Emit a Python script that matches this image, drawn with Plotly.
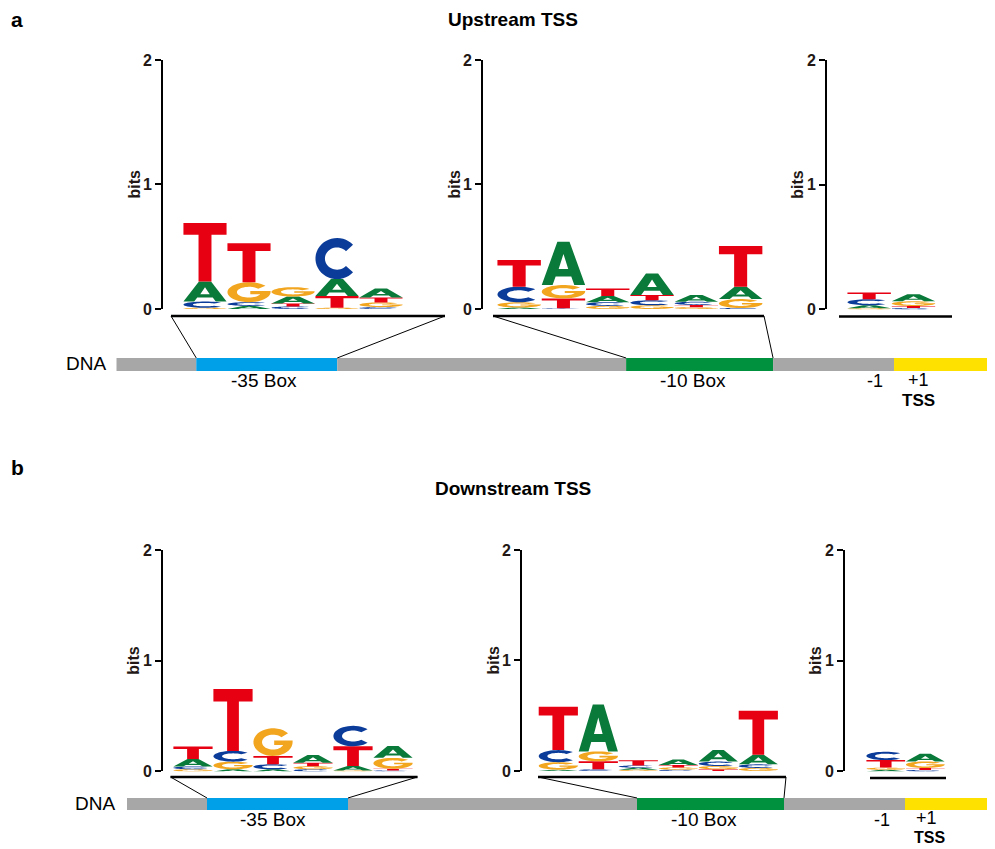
import numpy as np
import plotly.graph_objects as go

W, H = 995, 849

# ---------------- data (information content, bits) ----------------
# Upstream TSS, -35 box
UP35_A = [0.160, 0.025, 0.055, 0.135, 0.072]
UP35_C = [0.050, 0.030, 0.020, 0.330, 0.015]
UP35_G = [0.010, 0.160, 0.075, 0.010, 0.038]
UP35_T = [0.470, 0.313, 0.025, 0.095, 0.040]
# Upstream TSS, -10 box
UP10_A = [0.012, 0.348, 0.050, 0.174, 0.055, 0.099]
UP10_C = [0.125, 0.005, 0.030, 0.040, 0.025, 0.008]
UP10_G = [0.042, 0.107, 0.025, 0.030, 0.015, 0.072]
UP10_T = [0.214, 0.080, 0.060, 0.042, 0.018, 0.327]
# Upstream TSS, -1/+1
UPTSS_A = [0.024, 0.056]
UPTSS_C = [0.048, 0.012]
UPTSS_G = [0.010, 0.038]
UPTSS_T = [0.054, 0.016]
# Downstream TSS, -35 box
DN35_A = [0.067, 0.020, 0.020, 0.070, 0.040, 0.106]
DN35_C = [0.025, 0.097, 0.045, 0.020, 0.184, 0.010]
DN35_G = [0.020, 0.069, 0.250, 0.028, 0.010, 0.098]
DN35_T = [0.114, 0.558, 0.075, 0.030, 0.178, 0.015]
# Downstream TSS, -10 box
DN10_A = [0.012, 0.425, 0.018, 0.050, 0.106, 0.088]
DN10_C = [0.109, 0.015, 0.020, 0.012, 0.040, 0.032]
DN10_G = [0.068, 0.090, 0.012, 0.020, 0.030, 0.028]
DN10_T = [0.392, 0.072, 0.048, 0.022, 0.015, 0.398]
# Downstream TSS, -1/+1
DNTSS_A = [0.015, 0.070]
DNTSS_C = [0.075, 0.014]
DNTSS_G = [0.020, 0.058]
DNTSS_T = [0.068, 0.018]

LOGOS = [
    dict(A=UP35_A, C=UP35_C, G=UP35_G, T=UP35_T),
    dict(A=UP10_A, C=UP10_C, G=UP10_G, T=UP10_T),
    dict(A=UPTSS_A, C=UPTSS_C, G=UPTSS_G, T=UPTSS_T),
    dict(A=DN35_A, C=DN35_C, G=DN35_G, T=DN35_T),
    dict(A=DN10_A, C=DN10_C, G=DN10_G, T=DN10_T),
    dict(A=DNTSS_A, C=DNTSS_C, G=DNTSS_G, T=DNTSS_T),
]

# DNA schematic segments (relative lengths)
DNA_SEGMENTS = ["5'", "-35 Box", "spacer", "-10 Box", "discriminator", "TSS"]
DNA_LENGTHS = [80, 141, 289, 147, 121, 94]
DNA_COLORS = ["#A7A7A7", "#00A0E9", "#A7A7A7", "#00913F", "#A7A7A7", "#FFE100"]

Y_TICKS = [0, 1, 2]
Y_TICK_TEXT = ["0", "1", "2"]

LETTER_COLORS = {"A": "#0A7A3A", "C": "#0B3C9A", "G": "#F2A51F", "T": "#E60012"}

# ---------------- layout geometry (pixels, as seen in the target) ----------------
LOGO_GEOM = [
    dict(axis=163, first=183.0, unit=44.0, right=450, top=60, zero=309),
    dict(axis=483, first=497.0, unit=44.3, right=770, top=60, zero=309),
    dict(axis=827, first=847.0, unit=44.3, right=960, top=60, zero=309.5),
    dict(axis=163, first=173.0, unit=40.0, right=420, top=550, zero=771.5),
    dict(axis=522, first=538.3, unit=40.0, right=790, top=550, zero=771),
    dict(axis=845, first=866.0, unit=39.5, right=950, top=550, zero=771.5),
]
DNA_GEOM = [dict(x0=116.3, x1=988, y0=358, y1=371, total=872),
            dict(x0=127, x1=995, y0=798, y1=810, total=868)]

FONT = "Liberation Sans, Arial, sans-serif"
TXT = "#231815"

# page offset compensation (observed rendering offset)
OX, OY, SY = 8.0, 16.0, 0.98


def px(x):
    return (x - OX) / W


def py(y):
    return 1 - ((y - OY) / SY) / H


# ---------------- glyphs (unit box) ----------------
def arc(cx, cy, rx, ry, a0, a1, n=36):
    t = np.radians(np.linspace(a0, a1, n))
    return list(zip(cx + rx * np.cos(t), cy + ry * np.sin(t)))


GLYPHS = {
    "T": [[(0, 1), (1, 1), (1, 0.8), (0.65, 0.8), (0.65, 0), (0.35, 0), (0.35, 0.8), (0, 0.8)]],
    "A": [[(0, 0), (0.36, 1), (0.64, 1), (1, 0), (0.75, 0), (0.68, 0.2), (0.32, 0.2), (0.25, 0)],
          [(0.39, 0.37), (0.61, 0.37), (0.5, 0.72)]],
    "C": [arc(0.5, 0.5, 0.5, 0.5, 42, 318) + arc(0.5, 0.5, 0.28, 0.27, 318, 42)],
    "G": [arc(0.5, 0.5, 0.5, 0.5, 40, 360)
          + [(1.0, 0.56), (0.53, 0.56), (0.53, 0.40), (0.76, 0.40)]
          + arc(0.5, 0.5, 0.28, 0.27, 338, 40)],
}


def glyph_path(letter, x0, x1, y0, y1):
    parts = []
    for poly in GLYPHS[letter]:
        pts = [(x0 + fx * (x1 - x0), y0 + fy * (y1 - y0)) for fx, fy in poly]
        parts.append("M " + " L ".join(f"{a:.4f},{b:.5f}" for a, b in pts) + " Z")
    return " ".join(parts)


fig = go.Figure()
shapes = []
annotations = []
layout_axes = {}

for i, (logo, g) in enumerate(zip(LOGOS, LOGO_GEOM), start=1):
    xa = "xaxis" if i == 1 else f"xaxis{i}"
    ya = "yaxis" if i == 1 else f"yaxis{i}"
    xr = "x" if i == 1 else f"x{i}"
    yr = "y" if i == 1 else f"y{i}"
    xmin = 0.5 - (g["first"] - g["axis"]) / g["unit"]
    xmax = 0.5 + (g["right"] - g["first"]) / g["unit"]
    layout_axes[xa] = dict(domain=[px(g["axis"]), px(g["right"])], range=[xmin, xmax],
                           visible=False, anchor=yr, fixedrange=True)
    layout_axes[ya] = dict(domain=[py(g["zero"]), py(g["top"])], range=[0, 2], anchor=xr,
                           showline=True, linecolor="black", linewidth=2,
                           ticks="outside", ticklen=6, tickwidth=2, tickcolor="black",
                           tickvals=Y_TICKS, ticktext=Y_TICK_TEXT, showgrid=False,
                           zeroline=False, fixedrange=True,
                           tickfont=dict(family=FONT, size=16, color=TXT, weight="bold"))
    fig.add_trace(go.Scatter(x=[1], y=[0], mode="markers", marker=dict(opacity=0),
                             xaxis=xr, yaxis=yr, hoverinfo="skip", showlegend=False))
    npos = len(logo["A"])
    for p in range(npos):
        heights = sorted(((logo[L][p], L) for L in "ACGT"), key=lambda t: t[0])
        base = 0.0
        xc = p + 1
        for h, L in heights:
            if h <= 0:
                continue
            shapes.append(dict(type="path", xref=xr, yref=yr,
                               path=glyph_path(L, xc - 0.49, xc + 0.49, base, base + h),
                               fillcolor=LETTER_COLORS[L], line=dict(width=0),
                               fillrule="evenodd", layer="above"))
            base += h
    annotations.append(dict(text="<b>bits</b>", xref=f"{xr} domain", yref=f"{yr} domain",
                            x=0, y=0.5, xshift=-29, xanchor="center", yanchor="middle",
                            textangle=-90, showarrow=False,
                            font=dict(family=FONT, size=16, color=TXT)))

# DNA bars
for j, g in enumerate(DNA_GEOM):
    k = 7 + j
    xr, yr = f"x{k}", f"y{k}"
    layout_axes[f"xaxis{k}"] = dict(domain=[px(g["x0"]), px(g["x1"])], range=[0, g["total"]],
                                   visible=False, anchor=yr, fixedrange=True)
    layout_axes[f"yaxis{k}"] = dict(domain=[py(g["y1"]), py(g["y0"])], range=[-0.5, 0.5],
                                   visible=False, anchor=xr, fixedrange=True)
    starts = np.cumsum([0] + DNA_LENGTHS[:-1]).tolist()
    fig.add_trace(go.Bar(y=[0] * len(DNA_LENGTHS), x=DNA_LENGTHS, base=starts,
                         orientation="h", width=1.0, marker=dict(color=DNA_COLORS, line=dict(width=0)),
                         xaxis=xr, yaxis=yr, hoverinfo="skip", showlegend=False))


def dna_px(j, seg, end=False):
    g = DNA_GEOM[j]
    c = float(np.sum(DNA_LENGTHS[:seg + (1 if end else 0)]))
    return g["x0"] + c / g["total"] * (g["x1"] - g["x0"])


def line(x0, y0, x1, y1, w):
    shapes.append(dict(type="line", xref="paper", yref="paper", x0=px(x0), y0=py(y0),
                       x1=px(x1), y1=py(y1), line=dict(color="black", width=w)))


# baselines + connectors, top
line(171, 316, 445, 316, 2.5)
line(171, 316, dna_px(0, 1), 358, 1)
line(445, 316, dna_px(0, 1, True), 358, 1)
line(493, 316, 764, 316, 2.5)
line(493, 316, dna_px(0, 3), 358, 1)
line(764, 316, dna_px(0, 3, True), 358, 1)
line(839, 316.5, 952, 316.5, 2.5)
# bottom
line(170.5, 777, 417.5, 777, 2.5)
line(170.5, 777, dna_px(1, 1), 798, 1)
line(417.5, 777, dna_px(1, 1, True), 798, 1)
line(538, 777, 786, 777, 2.5)
line(538, 777, dna_px(1, 3), 798, 1)
line(786, 777, dna_px(1, 3, True), 798, 1)
line(870, 778, 946, 778, 2.5)


def text(t, x, y, size, bold=False, xanchor="center", yanchor="middle"):
    annotations.append(dict(text=f"<b>{t}</b>" if bold else t, xref="paper", yref="paper",
                            x=px(x), y=py(y), xanchor=xanchor, yanchor=yanchor,
                            showarrow=False, borderpad=0,
                            font=dict(family=FONT, size=size, color="black")))


text("a", 17, 20, 21, True)
text("Upstream TSS", 513, 20, 19, True)
text("DNA", 86, 364, 19)
text("-35 Box", 264, 381, 19)
text("-10 Box", 693, 381, 19)
text("-1", 875, 381, 18)
text("+1", 918, 391, 18, yanchor="bottom")
text("TSS", 918, 390, 17, True, yanchor="top")

text("b", 17, 468, 21, True)
text("Downstream TSS", 513, 489, 19, True)
text("DNA", 95, 804, 19)
text("-35 Box", 273, 820, 19)
text("-10 Box", 704, 820, 19)
text("-1", 882, 820, 18)
text("+1", 926, 829, 18, yanchor="bottom")
text("TSS", 929, 828, 16, True, yanchor="top")

fig.update_layout(width=W, height=H, margin=dict(l=0, r=0, t=0, b=0),
                  paper_bgcolor="white", plot_bgcolor="white", showlegend=False,
                  barmode="overlay", shapes=shapes, annotations=annotations, **layout_axes)

fig.write_html("out.html")
